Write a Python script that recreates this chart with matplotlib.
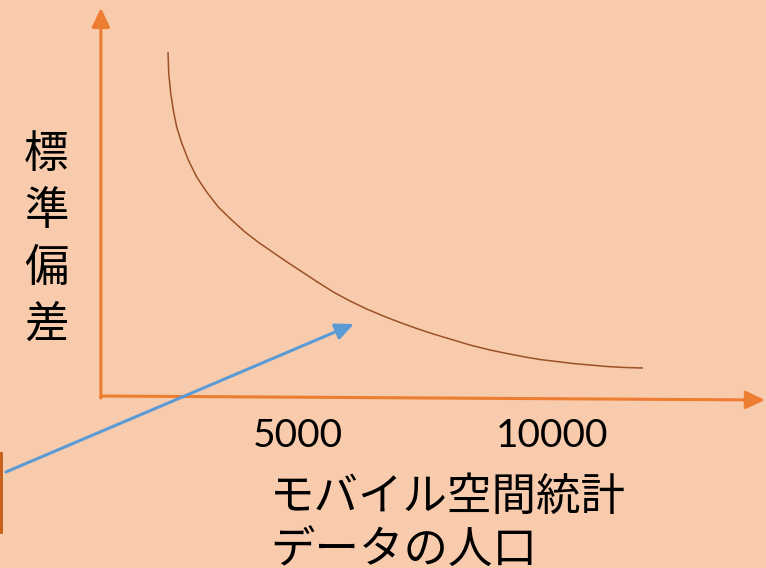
import matplotlib.pyplot as plt

# population of the mobile spatial statistics cell vs. standard deviation
population = [2441, 2455, 2494, 2545, 2612, 2711, 2841, 3006, 3203, 3431,
              3695, 3957, 4238, 4384, 4711, 5039, 5368, 5695, 6024, 6352,
              6679, 7008, 7337, 7663, 7992, 8386, 8780, 9114, 9468, 9764,
              10413, 10748, 11083, 11437, 11792]
std_dev = [346, 325, 305, 288, 271, 255, 238, 221, 206, 191,
           178, 166, 155, 150, 138.5, 127.5, 116.5, 106, 97, 89,
           82, 75.5, 69.5, 64, 59, 53, 48, 44.5, 41, 38.5,
           34.5, 33, 31.5, 30.5, 30]

tick_values = [5000, 10000]
tick_labels = ['5000', '10000']
y_label = '標準偏差'
x_label = ['モバイル空間統計', 'データの人口']

bg = '#F8CBAD'
orange = '#ED7D31'
brown = '#9C5126'
blue = '#5B9BD5'

cjk = ['Noto Sans CJK JP', 'DejaVu Sans']

fig = plt.figure(figsize=(7.66, 5.68), dpi=100)
fig.patch.set_facecolor(bg)
ax = fig.add_axes([0, 0, 1, 1])
ax.set_facecolor(bg)
ax.set_xlim(-866, 14213)
ax.set_ylim(-170, 398)
ax.axis('off')

# hand-drawn style axes with arrow heads
axis_arrow = dict(arrowstyle='-|>,head_length=1.15,head_width=0.55',
                  color=orange, lw=2.2, mutation_scale=10,
                  shrinkA=0, shrinkB=0)
ax.annotate('', xy=(1120, 390), xytext=(1120, 0), arrowprops=axis_arrow)
ax.annotate('', xy=(14190, -2), xytext=(1120, 2), arrowprops=axis_arrow)

# the curve
ax.plot(population, std_dev, color=brown, lw=1.1,
        solid_capstyle='butt', solid_joinstyle='round')

# callout arrow pointing at the curve
ax.annotate('', xy=(6100, 74), xytext=(-750, -74),
            arrowprops=dict(arrowstyle='-|>,head_length=1.1,head_width=0.5',
                            color=blue, lw=2.2, mutation_scale=10,
                            shrinkA=0, shrinkB=0))
# edge of a box at the left
ax.plot([-845, -845], [-55, -134], color='#C55A11', lw=2)

for v, t in zip(tick_values, tick_labels):
    ax.text(v, -38, t, ha='center', va='center', fontsize=28,
            family='Lato', color='black')

fig.text(46 / 766, 1 - 239.5 / 568, '\n'.join(y_label), ha='center',
         va='center', fontsize=32, family=cjk, linespacing=1.3)
fig.text(270 / 766, 1 - 497 / 568, x_label[0], ha='left', va='center',
         fontsize=32, family=cjk)
fig.text(270 / 766, 1 - 551 / 568, x_label[1], ha='left', va='center',
         fontsize=32, family=cjk)

fig.savefig('out.png', dpi=100, facecolor=bg)
